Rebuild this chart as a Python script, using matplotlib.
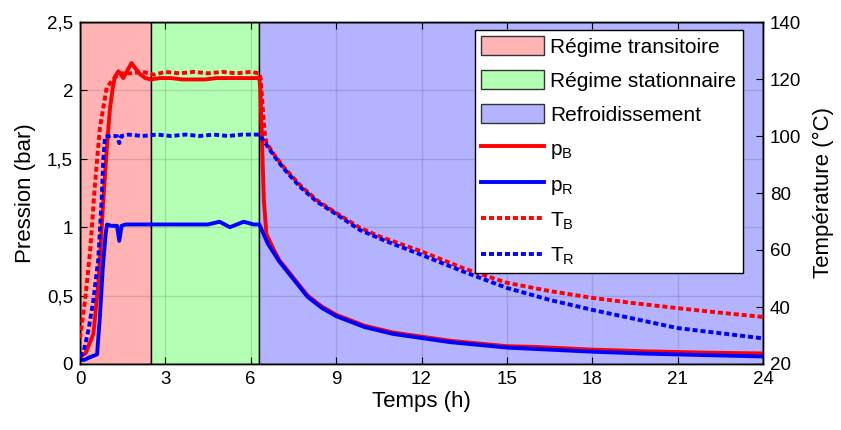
import numpy as np
import matplotlib
matplotlib.use("Agg")
import matplotlib.pyplot as plt
from matplotlib.patches import Patch
from matplotlib.lines import Line2D

plt.rcParams['font.family'] = ['Liberation Sans', 'DejaVu Sans']
plt.rcParams['mathtext.fontset'] = 'custom'
plt.rcParams['mathtext.rm'] = 'Liberation Sans'
plt.rcParams['mathtext.it'] = 'Liberation Sans'

# ---------------------------
# Data
# ---------------------------
phase_names = ["Régime transitoire", "Régime stationnaire", "Refroidissement"]
phase_bounds = [0, 2.5, 6.3, 24]

t_pB = [0, 0.2, 0.47, 0.65, 0.82, 0.95, 1.05, 1.15, 1.23, 1.35,
        1.52, 1.65, 1.81, 1.95, 2.1, 2.3, 2.5, 2.8, 3.2, 3.6,
        4.0, 4.4, 4.8, 5.2, 5.6, 6.0, 6.3, 6.34, 6.4, 6.46,
        6.55, 6.8, 7.0, 7.5, 8.0, 8.5, 9.0, 10, 11, 12,
        13, 14, 15, 16, 18, 20, 22, 24]
pB = [0.05, 0.08, 0.22, 0.6, 1.2, 1.6, 1.86, 2.02, 2.1, 2.14,
      2.09, 2.14, 2.2, 2.16, 2.12, 2.09, 2.08, 2.09, 2.09, 2.08,
      2.08, 2.08, 2.09, 2.09, 2.09, 2.09, 2.09, 2.0, 1.6, 1.2,
      0.95, 0.84, 0.76, 0.63, 0.5, 0.42, 0.36, 0.28, 0.23, 0.2,
      0.17, 0.15, 0.13, 0.125, 0.105, 0.092, 0.083, 0.077]

t_pR = [0, 0.15, 0.35, 0.6, 0.7, 0.8, 0.9, 0.95, 1.1, 1.3,
        1.38, 1.46, 1.6, 2.0, 2.5, 3.0, 3.5, 4.0, 4.5, 4.9,
        5.27, 5.75, 6.1, 6.3, 6.6, 7.0, 7.5, 8.0, 8.5, 9.0,
        10, 11, 12, 13, 14, 15, 16, 18, 20, 22,
        24]
pR = [0.03, 0.03, 0.05, 0.07, 0.35, 0.7, 0.95, 1.02, 1.01, 1.01,
      0.9, 1.01, 1.02, 1.02, 1.02, 1.02, 1.02, 1.02, 1.02, 1.04,
      1.0, 1.04, 1.02, 1.02, 0.88, 0.75, 0.62, 0.49, 0.41, 0.35,
      0.27, 0.22, 0.19, 0.16, 0.14, 0.12, 0.11, 0.09, 0.075, 0.065,
      0.055]

t_TB = [0, 0.18, 0.35, 0.53, 0.7, 0.94, 1.17, 1.4, 1.8, 2.2,
        2.6, 3.0, 3.5, 4.0, 4.5, 5.0, 5.5, 6.0, 6.3, 6.35,
        6.42, 6.5, 6.56, 6.8, 7.14, 7.73, 8.32, 9.0, 9.84, 10.54,
        12, 13.5, 15, 16.5, 18, 19.5, 21, 22.5, 24]
TB = [29, 42.5, 59, 83.5, 103, 117, 120, 122, 122, 122.5,
      121.5, 122.5, 122, 122.5, 122, 122.5, 122, 122.5, 122, 120,
      110, 100, 97.5, 93.8, 89.3, 82.8, 77.5, 73, 67.8, 64.7,
      59.5, 53.5, 48.5, 45.6, 43.2, 41.3, 39.6, 38, 36.5]

t_TR = [0, 0.12, 0.3, 0.47, 0.64, 0.76, 0.82, 0.88, 1.1, 1.3,
        1.38, 1.46, 1.7, 2.2, 2.7, 3.2, 3.7, 4.2, 4.7, 5.2,
        5.7, 6.3, 6.56, 6.8, 7.14, 7.73, 8.32, 9.0, 9.84, 10.78,
        12, 13.5, 15, 16.5, 18, 19.5, 21, 22.5, 24]
TR = [22.6, 24, 32, 42.5, 56.5, 77.5, 92, 99.8, 100, 100,
      97.5, 100, 100.5, 100, 100.5, 100, 100.5, 100, 100.5, 100,
      100.5, 100.5, 96.8, 93.3, 88.8, 82.2, 77, 72.6, 67, 63,
      58.3, 52.3, 46.7, 42.5, 39, 35.8, 32.6, 30.8, 29]

x_ticks = [0, 3, 6, 9, 12, 15, 18, 21, 24]
p_ticks = [0, 0.5, 1, 1.5, 2, 2.5]
p_ticklabels = ["0", "0,5", "1", "1,5", "2", "2,5"]
T_ticks = [20, 40, 60, 80, 100, 120, 140]

# ---------------------------
# Figure
# ---------------------------
fig = plt.figure(figsize=(8.41, 4.30), dpi=100)
ax = fig.add_axes([80 / 841, 1 - 364 / 430, 683 / 841, 342 / 430])
ax2 = ax.twinx()

phase_colors = ["#ffb3b3", "#b3ffb3", "#b3b3ff"]
for i in range(3):
    ax.axvspan(phase_bounds[i], phase_bounds[i + 1], facecolor=phase_colors[i],
               edgecolor="k", lw=1.0, zorder=0)

lw = 2.8
dots = (0, (1.3, 0.75))
ax.plot(t_pB, pB, color="#ff0000", lw=lw, zorder=3)
ax.plot(t_pR, pR, color="#0000ff", lw=lw, zorder=3)
ax2.plot(t_TB, TB, color="#ff0000", lw=lw, ls=dots, zorder=3)
ax2.plot(t_TR, TR, color="#0000ff", lw=lw, ls=dots, zorder=3)

ax.set_xlim(0, 24)
ax.set_ylim(0, 2.5)
ax2.set_ylim(20, 140)
ax.set_xticks(x_ticks)
ax.set_yticks(p_ticks)
ax.set_yticklabels(p_ticklabels)
ax2.set_yticks(T_ticks)

ax.grid(True, color="#262626", alpha=0.15, lw=1.0)
for a in (ax, ax2):
    a.tick_params(direction="in", labelsize=13.5, length=5, width=0.8, colors="k", pad=5)
    for s in a.spines.values():
        s.set_linewidth(1.0)
        s.set_color("k")
ax.tick_params(top=True)

ax.set_xlabel("Temps (h)", fontsize=16, labelpad=2)
ax.set_ylabel("Pression (bar)", fontsize=16, labelpad=8)
ax2.set_ylabel("Température (°C)", fontsize=16, labelpad=8)

handles = [Patch(facecolor=c, edgecolor="#333333", lw=1.0) for c in phase_colors]
handles += [Line2D([], [], color="#ff0000", lw=lw),
            Line2D([], [], color="#0000ff", lw=lw),
            Line2D([], [], color="#ff0000", lw=lw, ls=dots),
            Line2D([], [], color="#0000ff", lw=lw, ls=dots)]
labels = phase_names + [r"$\mathregular{p_B}$", r"$\mathregular{p_R}$",
                        r"$\mathregular{T_B}$", r"$\mathregular{T_R}$"]
leg = ax2.legend(handles, labels, loc="upper right", bbox_to_anchor=(0.97, 0.977),
                 borderaxespad=0, fontsize=15, handlelength=3.0, handleheight=1.0,
                 handletextpad=0.3, borderpad=0.3, labelspacing=0.65,
                 fancybox=False, edgecolor="k", framealpha=1)
leg.get_frame().set_linewidth(1.0)
leg.set_zorder(10)

fig.savefig("out.png", dpi=100)
